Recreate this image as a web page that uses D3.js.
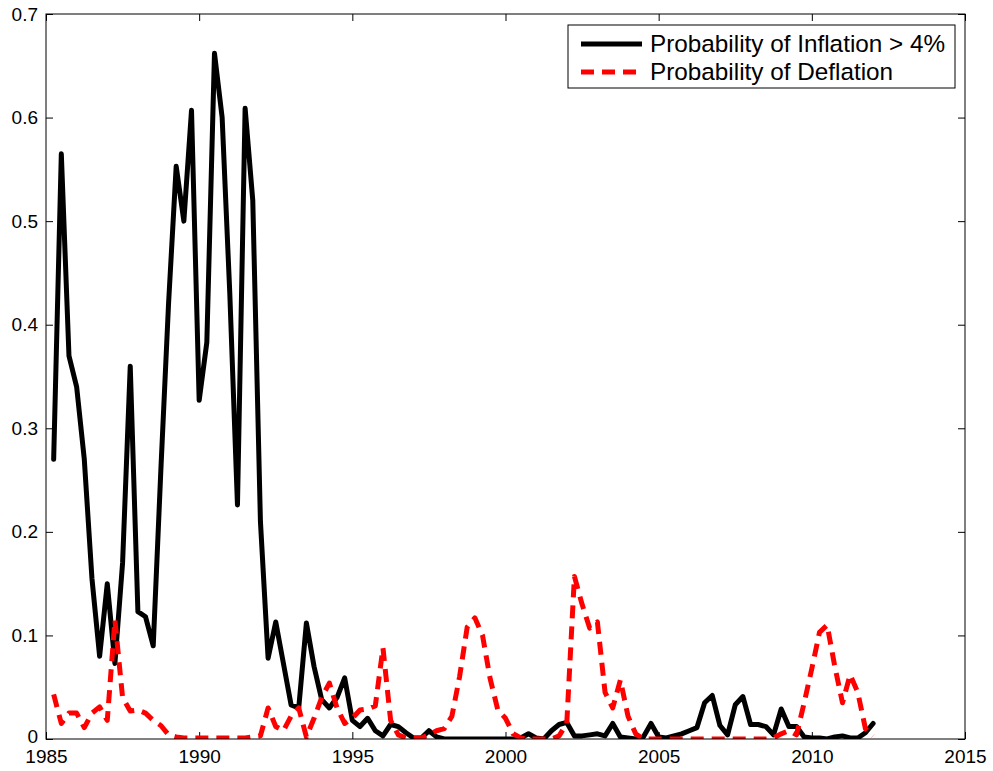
<!DOCTYPE html>
<html>
<head>
<meta charset="utf-8">
<script src="https://cdn.jsdelivr.net/npm/d3@7"></script>
<style>
  html, body { margin: 0; padding: 0; background: #fff; }
  svg { display: block; }
  text { font-family: "Liberation Sans", Arial, Helvetica, sans-serif; }
</style>
</head>
<body>
<script>
// Quarterly observations starting 1985.25
const startYear = 1985.25;
const step = 0.25;

const inflationProb = [
  0.27, 0.565, 0.37, 0.34, 0.27, 0.155, 0.08, 0.15, 0.073, 0.17,
  0.36, 0.123, 0.118, 0.09, 0.26, 0.42, 0.553, 0.50, 0.607, 0.327,
  0.383, 0.662, 0.60, 0.43, 0.226, 0.609, 0.52, 0.21, 0.078, 0.113,
  0.073, 0.033, 0.03, 0.112, 0.07, 0.038, 0.03, 0.04, 0.059, 0.018,
  0.012, 0.02, 0.008, 0.003, 0.014, 0.012, 0.006, 0.001, 0.001, 0.008,
  0.002, 0.0, 0.0, 0.0, 0.0, 0.0, 0.0, 0.0, 0.0, 0.0,
  0.0, 0.001, 0.005, 0.001, 0.0, 0.008, 0.014, 0.016, 0.003, 0.003,
  0.004, 0.005, 0.003, 0.015, 0.002, 0.001, 0.0, 0.002, 0.015, 0.002,
  0.001, 0.003, 0.005, 0.008, 0.011, 0.035, 0.042, 0.013, 0.004, 0.033,
  0.041, 0.014, 0.014, 0.012, 0.004, 0.029, 0.012, 0.012, 0.002, 0.001,
  0.001, 0.0, 0.002, 0.003, 0.001, 0.001, 0.006, 0.015
];

const deflationProb = [
  0.043, 0.015, 0.025, 0.025, 0.011, 0.025, 0.031, 0.018, 0.115, 0.04,
  0.027, 0.028, 0.025, 0.018, 0.013, 0.004, 0.002, 0.001, 0.001, 0.001,
  0.001, 0.001, 0.001, 0.001, 0.001, 0.001, 0.002, 0.003, 0.03, 0.012,
  0.008, 0.022, 0.03, 0.002, 0.02, 0.04, 0.054, 0.03, 0.015, 0.02,
  0.028, 0.029, 0.032, 0.088, 0.018, 0.004, 0.001, 0.001, 0.001, 0.004,
  0.008, 0.01, 0.022, 0.06, 0.108, 0.117, 0.1, 0.058, 0.028, 0.02,
  0.005, 0.001, 0.0, 0.0, 0.0, 0.0, 0.003, 0.015, 0.157, 0.13,
  0.107, 0.113, 0.045, 0.03, 0.057, 0.022, 0.005, 0.0, 0.0, 0.0,
  0.0, 0.0, 0.0, 0.0, 0.0, 0.0, 0.0, 0.0, 0.0, 0.0,
  0.0, 0.0, 0.0, 0.0, 0.001, 0.005, 0.008, 0.004, 0.035, 0.068,
  0.103, 0.11, 0.07, 0.035, 0.062, 0.045, 0.01, 0.003
];

const xTicks = [1985, 1990, 1995, 2000, 2005, 2010, 2015];
const yTicks = [0, 0.1, 0.2, 0.3, 0.4, 0.5, 0.6, 0.7];
const seriesNames = ["Probability of Inflation > 4%", "Probability of Deflation"];

const W = 993, H = 771;
const margin = { left: 46, right: 28, top: 14, bottom: 32 };

const svg = d3.select("body").append("svg").attr("width", W).attr("height", H);

const x = d3.scaleLinear().domain([1985, 2015]).range([margin.left, W - margin.right]);
const y = d3.scaleLinear().domain([0, 0.7]).range([H - margin.bottom, margin.top]);

svg.append("clipPath").attr("id", "clip").append("rect")
  .attr("x", margin.left).attr("y", margin.top)
  .attr("width", W - margin.left - margin.right)
  .attr("height", H - margin.top - margin.bottom);

const tickLen = 7;
const fmtY = d => d === 0 ? "0" : d3.format(".1f")(d);

const gx = svg.append("g").attr("transform", `translate(0,${H - margin.bottom})`)
  .call(d3.axisBottom(x).tickValues(xTicks).tickFormat(d3.format("d")).tickSizeInner(-tickLen).tickSizeOuter(0).tickPadding(11));
const gxt = svg.append("g").attr("transform", `translate(0,${margin.top})`)
  .call(d3.axisTop(x).tickValues(xTicks).tickFormat("").tickSizeInner(-tickLen).tickSizeOuter(0));
const gy = svg.append("g").attr("transform", `translate(${margin.left},0)`)
  .call(d3.axisLeft(y).tickValues(yTicks).tickFormat(fmtY).tickSizeInner(-tickLen).tickSizeOuter(0).tickPadding(8));
const gyr = svg.append("g").attr("transform", `translate(${W - margin.right},0)`)
  .call(d3.axisRight(y).tickValues(yTicks).tickFormat("").tickSizeInner(-tickLen).tickSizeOuter(0));

[gx, gxt, gy, gyr].forEach(g => {
  g.select(".domain").remove();
  g.selectAll(".tick line").attr("stroke", "#000").attr("stroke-width", 1);
  g.selectAll("text").attr("fill", "#000").style("font-size", "19px")
    .style("font-family", '"Liberation Sans", Arial, sans-serif');
});
gy.selectAll(".tick").filter(d => d === 0).select("text").attr("dy", "0.2em");

const dates = inflationProb.map((_, i) => startYear + i * step);
const line = d3.line().x((d, i) => x(dates[i])).y(d => y(d));

const plot = svg.append("g").attr("clip-path", "url(#clip)");
plot.append("path").datum(inflationProb)
  .attr("d", line).attr("fill", "none").attr("stroke", "#000")
  .attr("stroke-width", 5).attr("stroke-linejoin", "round").attr("stroke-linecap", "round");
plot.append("path").datum(deflationProb)
  .attr("d", line).attr("fill", "none").attr("stroke", "#ff0000")
  .attr("stroke-width", 5).attr("stroke-dasharray", "13,8").attr("stroke-linejoin", "round");

svg.append("rect")
  .attr("x", margin.left).attr("y", margin.top)
  .attr("width", W - margin.left - margin.right)
  .attr("height", H - margin.top - margin.bottom)
  .attr("fill", "none").attr("stroke", "#000").attr("stroke-width", 1);

const lg = svg.append("g");
lg.append("rect").attr("x", 568).attr("y", 25).attr("width", 387).attr("height", 63)
  .attr("fill", "#fff").attr("stroke", "#000").attr("stroke-width", 1);
const styles = [
  { stroke: "#000", dash: null },
  { stroke: "#ff0000", dash: "13,8" }
];
seriesNames.forEach((name, i) => {
  const yy = 44 + i * 28;
  lg.append("line").attr("x1", 581).attr("x2", 642).attr("y1", yy).attr("y2", yy)
    .attr("stroke", styles[i].stroke).attr("stroke-width", 5)
    .attr("stroke-dasharray", styles[i].dash);
  lg.append("text").attr("x", 650).attr("y", yy + 8).text(name)
    .style("font-size", "24.3px").attr("fill", "#000");
});
</script>
</body>
</html>
